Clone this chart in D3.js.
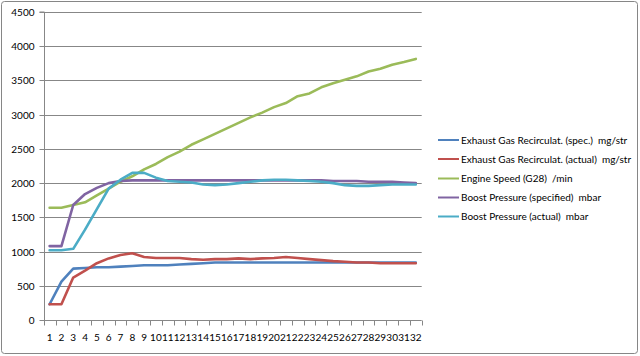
<!DOCTYPE html>
<html><head><meta charset="utf-8">
<script src="https://cdn.jsdelivr.net/npm/d3@7"></script>
<style>body{margin:0;background:#fff}svg{display:block}text{font-family:Lato,"Open Sans",sans-serif;fill:#000;white-space:pre}</style>
</head><body><svg id="c" width="640" height="356"></svg>
<script>
const categories = d3.range(1, 33).map(String);
const yTicks = [0,500,1000,1500,2000,2500,3000,3500,4000,4500];
const seriesNames = ["Exhaust Gas Recirculat. (spec.)  mg/str","Exhaust Gas Recirculat. (actual)  mg/str","Engine Speed (G28)  /min","Boost Pressure (specified)  mbar","Boost Pressure (actual)  mbar"];
const seriesColors = ["#4F81BD","#C0504D","#9BBB59","#8064A2","#4BACC6"];
const egrSpec = [230,560,750,760,770,770,780,790,800,800,800,810,820,830,840,840,840,840,840,840,840,840,840,840,840,840,840,840,840,840,840,840];
const egrActual = [230,230,620,720,830,900,950,975,920,905,905,905,890,880,890,890,900,890,900,905,920,905,890,875,860,850,840,840,830,830,830,830];
const engineSpeed = [1640,1640,1680,1720,1820,1920,2020,2100,2200,2280,2380,2460,2560,2640,2720,2800,2880,2960,3030,3110,3170,3270,3310,3400,3460,3510,3560,3630,3670,3730,3770,3815];
const boostSpec = [1080,1080,1680,1840,1930,2000,2030,2040,2040,2040,2040,2040,2040,2040,2040,2040,2040,2040,2040,2040,2040,2040,2040,2040,2030,2030,2030,2020,2020,2020,2010,2000];
const boostActual = [1020,1020,1040,1320,1620,1920,2050,2150,2150,2080,2030,2020,2010,1980,1970,1980,2000,2020,2040,2050,2050,2040,2030,2020,2000,1970,1960,1960,1970,1980,1980,1980];
const seriesValues = [egrSpec, egrActual, engineSpeed, boostSpec, boostActual];

const svg = d3.select("#c");
svg.append("rect").attr("x",1.5).attr("y",1.5).attr("width",636).attr("height",352).attr("rx",3).attr("fill","#fff").attr("stroke","#868686");

const L=43.7, R=421.7, T=12, B=320;
const x = d3.scaleBand().domain(categories).range([L,R]);
const y = d3.scaleLinear().domain([0,4500]).range([B,T]);

const g = svg.append("g");
g.selectAll("line.grid").data(yTicks.filter(d=>d>0)).join("line")
 .attr("x1",L).attr("x2",R).attr("y1",d=>Math.round(y(d))+0.5).attr("y2",d=>Math.round(y(d))+0.5)
 .attr("stroke","#878787").attr("stroke-width",1);

const yAxis = d3.axisLeft(y).tickValues(yTicks).tickFormat(d3.format("d")).tickSize(5).tickPadding(5);
const ya = svg.append("g").attr("transform",`translate(${Math.round(L)+0.5},0)`).call(yAxis);
ya.select(".domain").attr("stroke","#878787").attr("d",`M-5,${y(4500)}H0V${B}`);
ya.selectAll(".tick line").attr("stroke","#878787");
ya.selectAll(".tick").attr("transform",d=>`translate(0,${Math.round(y(d))+0.5})`);
ya.selectAll("text").attr("font-size","10px").style("font-family","Lato,'Open Sans',sans-serif").attr("fill","#000");

const xa = svg.append("g").attr("transform",`translate(0,${B+0.5})`);
xa.append("line").attr("x1",L).attr("x2",R).attr("stroke","#878787");
const bounds = d3.range(0,33).map(i=> i<32 ? x(categories[i]) : x(categories[31])+x.bandwidth());
xa.selectAll("line.t").data(bounds).join("line").attr("x1",d=>Math.round(d)+0.5).attr("x2",d=>Math.round(d)+0.5).attr("y1",0).attr("y2",5).attr("stroke","#878787");
xa.selectAll("text").data(categories).join("text")
 .attr("x",d=>x(d)+x.bandwidth()/2).attr("y",20).attr("text-anchor","middle")
 .attr("font-size","10px").text(d=>d);

const line = d3.line().x((d,i)=>x(categories[i])+x.bandwidth()/2).y(d=>y(d));
svg.append("g").selectAll("path").data(seriesValues).join("path")
 .attr("d",line).attr("fill","none").attr("stroke",(d,i)=>seriesColors[i])
 .attr("stroke-width",2.6).attr("stroke-linejoin","round").attr("stroke-linecap","round");

const lg = svg.append("g");
const rows = [140,159,178.5,197.5,216.5];
seriesNames.forEach((n,i)=>{
  lg.append("line").attr("x1",438).attr("x2",459).attr("y1",rows[i]).attr("y2",rows[i]).attr("stroke",seriesColors[i]).attr("stroke-width",2);
  lg.append("text").attr("x",461).attr("y",rows[i]+3.5).attr("font-size","10px").text(n);
});
</script></body></html>
